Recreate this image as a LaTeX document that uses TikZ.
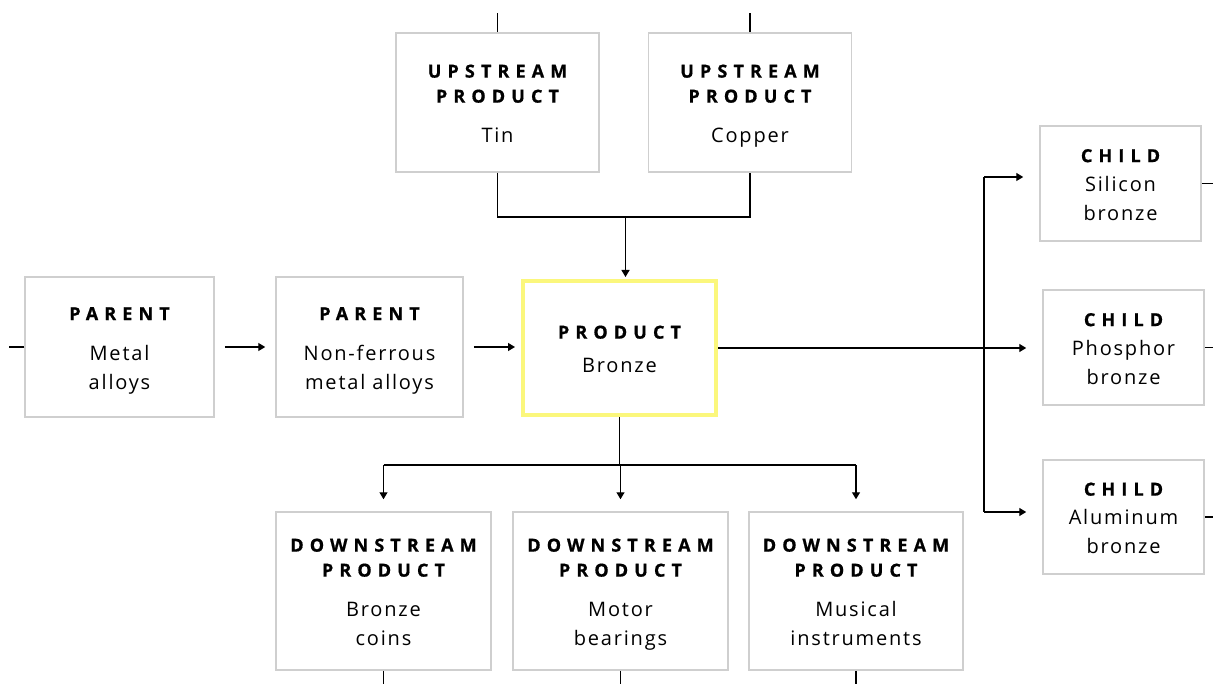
\documentclass[tikz,border=0pt]{standalone}
\usepackage{fontspec}
\setmainfont[LetterSpace=9]{Open Sans}
\newfontfamily\tfam[LetterSpace=34,BoldFeatures={FakeBold=0.8}]{Open Sans}
\usetikzlibrary{arrows.meta}
\definecolor{boxgray}{HTML}{CFCFCF}
\definecolor{hiyellow}{HTML}{FBF77C}
\newcommand\tf{\tfam\bfseries\fontsize{18}{29}\selectfont}
\newcommand\tops{\rule{0pt}{24pt}}
\tikzset{
  box/.style={draw=boxgray, line width=1.5pt, fill=white, inner sep=0pt, align=center,
    font=\fontsize{20}{29}\selectfont},
  prodbox/.style={box, draw=hiyellow, line width=4pt},
  conn/.style={line width=1.4pt, black},
  arr/.style={conn, -{Triangle[length=7pt,width=8pt]}},
}
\begin{document}
\begin{tikzpicture}[x=1pt,y=-1pt]
\useasboundingbox[fill=white] (0,0) rectangle (1213,684);
% upstream
\node[box, minimum width=203pt, minimum height=139pt] (up1) at (497.5,102.5)
  {\tops\tf UPSTREAM\\[-4pt]\tf PRODUCT\\[11pt]Tin\strut};
\node[box, minimum width=203pt, minimum height=139pt] (up2) at (750,102.5)
  {\tops\tf UPSTREAM\\[-4pt]\tf PRODUCT\\[11pt]Copper\strut};
% parents
\node[box, minimum width=189pt, minimum height=140pt] (par1) at (119.5,347)
  {\tops\tf PARENT\\[11pt]Metal\\alloys\strut};
\node[box, minimum width=187pt, minimum height=140pt] (par2) at (369.5,347)
  {\tops\tf PARENT\\[11pt]Non-ferrous\\metal alloys\strut};
% product
\node[prodbox, minimum width=193pt, minimum height=134pt] (prod) at (619.5,348)
  {\tops\tf PRODUCT\\[5pt]Bronze\strut};
% children
\node[box, minimum width=161pt, minimum height=115pt] (ch1) at (1120.5,183.5)
  {\tops\tf CHILD\\Silicon\\bronze\strut};
\node[box, minimum width=161pt, minimum height=115pt] (ch2) at (1123.5,347.5)
  {\tops\tf CHILD\\Phosphor\\bronze\strut};
\node[box, minimum width=161pt, minimum height=114pt] (ch3) at (1123.5,517)
  {\tops\tf CHILD\\Aluminum\\bronze\strut};
% downstream
\node[box, minimum width=215pt, minimum height=158pt] (dn1) at (383.5,591)
  {\tops\tf DOWNSTREAM\\[-4pt]\tf PRODUCT\\[11pt]Bronze\\coins\strut};
\node[box, minimum width=215pt, minimum height=158pt] (dn2) at (620.5,591)
  {\tops\tf DOWNSTREAM\\[-4pt]\tf PRODUCT\\[11pt]Motor\\bearings\strut};
\node[box, minimum width=214pt, minimum height=158pt] (dn3) at (856,591)
  {\tops\tf DOWNSTREAM\\[-4pt]\tf PRODUCT\\[11pt]Musical\\instruments\strut};
% stubs
\draw[conn] (up1.north) -- ++(0,-19);
\draw[conn] (up2.north) -- ++(0,-19);
\draw[conn] (par1.west) -- ++(-15,0);
\draw[conn] (ch1.east) -- ++(14,0);
\draw[conn] (ch2.east) -- ++(14,0);
\draw[conn] (ch3.east) -- ++(14,0);
\draw[conn] (dn1.south) -- ++(0,16);
\draw[conn] (dn2.south) -- ++(0,16);
\draw[conn] (dn3.south) -- ++(0,16);
% parent chain
\draw[arr, shorten <=10pt, shorten >=10pt] (par1) -- (par2);
\draw[arr, shorten <=10pt, shorten >=6pt] (par2) -- (par2 -| prod.west);
% upstream merge
\coordinate (m) at (625.5,217);
\draw[conn] (up1.south) -- (up1.south |- m) -- (up2.south |- m) -- (up2.south);
\draw[arr, shorten >=2pt] (m) -- (m |- prod.north);
% downstream split
\coordinate (d) at (620.5,465);
\draw[conn] (prod.south) -- (prod.south |- d);
\draw[conn] (dn1.north |- d) -- (dn3.north |- d);
\draw[arr, shorten >=12pt] (dn1.north |- d) -- (dn1.north);
\draw[arr, shorten >=12pt] (d) -- (dn2.north);
\draw[arr, shorten >=12pt] (dn3.north |- d) -- (dn3.north);
% children
\coordinate (v1) at (984,177);
\coordinate (v3) at (984,512);
\draw[conn] (v1) -- (v3);
\draw[arr, shorten >=16pt] (prod.east) -- (prod.east -| ch2.west);
\draw[arr, shorten >=16pt] (v1) -- (v1 -| ch1.west);
\draw[arr, shorten >=16pt] (v3) -- (v3 -| ch3.west);
\end{tikzpicture}
\end{document}
